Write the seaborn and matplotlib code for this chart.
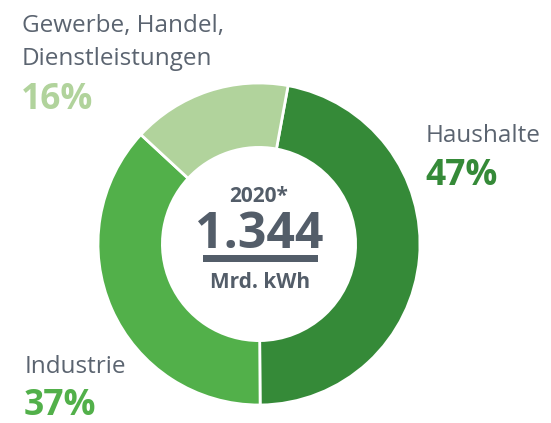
import matplotlib
matplotlib.use("Agg")
import matplotlib.pyplot as plt
import seaborn as sns
from matplotlib.patches import Rectangle

categories = ["Haushalte", "Industrie", "Gewerbe, Handel,\nDienstleistungen"]
shares = [47, 37, 16]
pct_labels = ["47%", "37%", "16%"]
colors = ["#358a38", "#52b04a", "#b1d39c"]
year_label = "2020*"
total_label = "1.344"
unit_label = "Mrd. kWh"

sns.set_theme(style="white")
plt.rcParams["font.family"] = ["Open Sans", "DejaVu Sans"]

W, H = 551, 423
fig = plt.figure(figsize=(W / 100, H / 100), dpi=100)
fig.patch.set_facecolor("white")

cx, cy, R = 259, 244, 161
ax = fig.add_axes([(cx - R) / W, (H - cy - R) / H, 2 * R / W, 2 * R / H])
ax.pie(shares, colors=colors, startangle=90 - 10.4, counterclock=False,
       radius=1.0,
       wedgeprops=dict(width=0.40, edgecolor="white", linewidth=2))
ax.set_xlim(-1, 1)
ax.set_ylim(-1, 1)
ax.set_aspect("equal")
ax.axis("off")

def P(x, y):
    return x / W, 1 - y / H

grey = "#5b6470"
lab_fs = 17.5
pct_fs = 25.5
# labels
fig.text(*P(22, 32), "Gewerbe, Handel,", fontsize=lab_fs, color=grey, ha="left", va="baseline")
fig.text(*P(22, 65), "Dienstleistungen", fontsize=lab_fs, color=grey, ha="left", va="baseline")
fig.text(*P(21, 109), pct_labels[2], fontsize=pct_fs, color=colors[2], fontweight="bold", ha="left", va="baseline")

fig.text(*P(426, 142), categories[0], fontsize=lab_fs, color=grey, ha="left", va="baseline")
fig.text(*P(425, 185), pct_labels[0], fontsize=pct_fs, color=colors[0], fontweight="bold", ha="left", va="baseline")

fig.text(*P(25, 373), categories[1], fontsize=lab_fs, color=grey, ha="left", va="baseline")
fig.text(*P(24, 415), pct_labels[1], fontsize=pct_fs, color=colors[1], fontweight="bold", ha="left", va="baseline")

# center
center_grey = "#535d69"
fig.text(*P(259, 202), year_label, fontsize=15, color=center_grey, fontweight="bold", ha="center", va="baseline")
fig.text(*P(259, 248), total_label, fontsize=36, color=center_grey, fontweight="bold", ha="center", va="baseline")
x0, y0 = P(203, 262)
fig.patches.append(Rectangle((x0, y0), 115 / W, 7 / H, transform=fig.transFigure,
                             facecolor=center_grey, edgecolor="none"))
fig.text(*P(260, 288), unit_label, fontsize=15, color=center_grey, fontweight="bold", ha="center", va="baseline")

fig.savefig("out.png", dpi=100, facecolor="white")
